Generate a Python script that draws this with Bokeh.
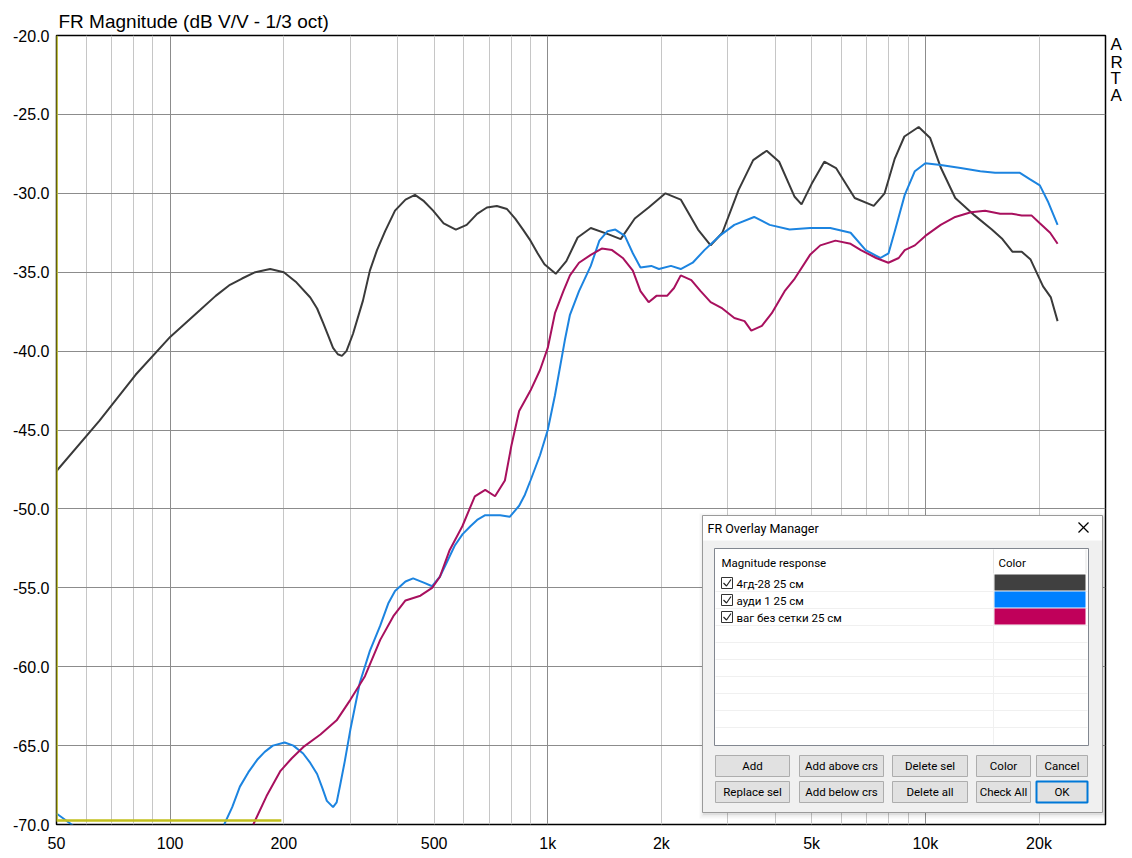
import math
from bokeh.plotting import figure
from bokeh.models import (Range1d, FixedTicker, CustomJSTickFormatter, Grid,
                          PrintfTickFormatter, LinearAxis)
from bokeh.core.properties import value
from bokeh.embed import file_html
from bokeh.resources import INLINE

nan = float("nan")

# ---------------- data ----------------
title_text = "FR Magnitude (dB V/V - 1/3 oct)"
series_names = ["4гд-28 25 см", "ауди 1 25 см", "ваг без сетки 25 см"]
swatch_colors = ["#404040", "#0080ff", "#c0005a"]
line_colors = ["#3a3a3a", "#1c84e0", "#a8105e"]

# (frequency Hz, level dB)
black_pts = [(50, -47.6), (65, -44.4), (81, -41.5), (100, -39.1), (120, -37.4), (132, -36.5),
             (144, -35.8), (155, -35.4), (168, -35.0), (184, -34.8), (200, -35.0), (215, -35.6),
             (235, -36.6), (245, -37.3), (254, -38.2), (262, -39.0), (270, -39.8), (278, -40.2),
             (285, -40.3), (293, -40.0), (305, -38.9), (324, -36.8), (338, -34.9), (353, -33.6),
             (371, -32.4), (394, -31.1), (420, -30.4), (445, -30.1), (470, -30.5), (497, -31.1),
             (530, -31.9), (571, -32.3), (610, -32.0), (650, -31.3), (690, -30.9), (733, -30.8),
             (780, -31.0), (820, -31.6), (860, -32.3), (900, -33.0), (940, -33.8), (980, -34.5),
             (1050, -35.1), (1120, -34.3), (1200, -32.8), (1300, -32.2), (1450, -32.6),
             (1560, -32.9), (1700, -31.6), (1850, -30.9), (2050, -30.0), (2250, -30.4),
             (2500, -32.3), (2700, -33.3), (2900, -32.5), (3200, -29.8), (3500, -27.9),
             (3800, -27.3), (4100, -28.0), (4500, -30.2), (4700, -30.7), (5000, -29.4),
             (5400, -28.0), (5800, -28.4), (6500, -30.3), (7300, -30.8), (7800, -30.0),
             (8300, -27.8), (8800, -26.4), (9600, -25.8), (10300, -26.5), (11000, -28.4),
             (12000, -30.3), (13500, -31.4), (15000, -32.3), (16000, -32.9), (17000, -33.7),
             (18000, -33.7), (19000, -34.2), (20500, -35.9), (21500, -36.6), (22400, -38.1)]

blue_pts = [(50, -69.3), (57, -70.3), (nan, nan), (139, -70.0), (146, -68.9), (153, -67.6),
            (161, -66.7), (170, -65.9), (178, -65.4), (187, -65.0), (201, -64.8), (212, -65.0),
            (225, -65.5), (235, -66.1), (245, -66.8), (253, -67.7), (260, -68.5), (270, -68.9),
            (276, -68.6), (282, -67.5), (290, -66.0), (300, -64.0), (318, -61.0), (338, -59.0),
            (360, -57.4), (378, -56.0), (394, -55.2), (420, -54.6), (440, -54.4), (473, -54.7),
            (494, -54.9), (518, -54.3), (540, -53.4), (568, -52.3), (595, -51.6), (624, -51.1),
            (650, -50.7), (683, -50.4), (748, -50.4), (793, -50.5), (840, -49.8), (870, -49.1),
            (900, -48.2), (954, -46.6), (1000, -45.0), (1045, -42.8), (1110, -39.3),
            (1145, -37.7), (1210, -36.2), (1300, -34.6), (1370, -33.0), (1440, -32.4),
            (1510, -32.3), (1600, -32.7), (1680, -33.8), (1760, -34.7), (1880, -34.6),
            (1970, -34.8), (2120, -34.6), (2250, -34.8), (2420, -34.4), (2600, -33.6),
            (2850, -32.7), (3120, -32.0), (3520, -31.5), (3870, -32.0), (4370, -32.3),
            (4950, -32.2), (5600, -32.2), (6340, -32.5), (6950, -33.6), (7600, -34.1),
            (7990, -33.8), (8300, -32.4), (8820, -30.1), (9380, -28.6), (10000, -28.1),
            (10980, -28.2), (12400, -28.4), (13980, -28.6), (15300, -28.7), (16270, -28.7),
            (17800, -28.7), (18900, -29.1), (20100, -29.5), (21100, -30.5), (22400, -32.0)]

mag_pts = [(166, -70.0), (180, -68.2), (196, -66.6), (210, -65.8), (225, -65.1), (250, -64.3),
           (276, -63.4), (300, -62.1), (328, -60.6), (360, -58.3), (390, -56.8), (420, -55.8),
           (460, -55.5), (494, -55.0), (518, -54.3), (550, -52.6), (594, -51.1), (641, -49.2),
           (683, -48.8), (725, -49.2), (770, -48.2), (801, -46.0), (840, -43.8), (900, -42.5),
           (954, -41.2), (1000, -39.8), (1045, -37.6), (1100, -36.2), (1145, -35.2),
           (1210, -34.4), (1300, -33.9), (1390, -33.5), (1480, -33.6), (1580, -34.1),
           (1680, -34.9), (1760, -36.2), (1850, -36.9), (1940, -36.5), (2070, -36.5),
           (2160, -36.0), (2250, -35.2), (2400, -35.5), (2540, -36.2), (2700, -36.9),
           (2900, -37.3), (3120, -37.9), (3320, -38.1), (3460, -38.7), (3690, -38.4),
           (3920, -37.6), (4240, -36.2), (4510, -35.4), (4950, -33.9), (5270, -33.3),
           (5780, -33.0), (6340, -33.2), (6750, -33.6), (7410, -34.1), (7980, -34.4),
           (8500, -34.1), (8820, -33.6), (9380, -33.3), (10000, -32.7), (10980, -32.0),
           (12000, -31.5), (13200, -31.2), (14400, -31.1), (15780, -31.3), (16950, -31.3),
           (18000, -31.4), (19100, -31.4), (20100, -31.9), (21400, -32.5), (22400, -33.2)]

yellow_pts = [(50, -20.0), (50, -69.75), (197, -69.75)]

x_label_ticks = [50, 100, 200, 500, 1000, 2000, 5000, 10000, 20000]
x_minor_grid = [60, 70, 80, 90, 200, 300, 400, 500, 600, 700, 800, 900,
                2000, 3000, 4000, 5000, 6000, 7000, 8000, 9000, 20000]
x_major_grid = [100, 1000, 10000]
y_ticks = [-70, -65, -60, -55, -50, -45, -40, -35, -30, -25, -20]

button_rows = [["Add", "Add above crs", "Delete sel", "Color", "Cancel"],
               ["Replace sel", "Add below crs", "Delete all", "Check All", "OK"]]

black_f, black_db = [list(v) for v in zip(*black_pts)]
blue_f, blue_db = [list(v) for v in zip(*blue_pts)]
mag_f, mag_db = [list(v) for v in zip(*mag_pts)]
yellow_f, yellow_db = [list(v) for v in zip(*yellow_pts)]

# ---------------- layout constants (page pixels) ----------------
F_MIN, F_MAX = 50, 30000
DB_MIN, DB_MAX = -70, -20
FRAME_L, FRAME_T, FRAME_W, FRAME_H = 56, 35, 1049, 789
UI_FONT = "Roboto"

p = figure(x_axis_type="log", x_range=Range1d(F_MIN, F_MAX), y_range=Range1d(DB_MIN, DB_MAX),
           frame_width=FRAME_W, frame_height=FRAME_H,
           min_border_left=FRAME_L, min_border_top=FRAME_T,
           min_border_right=22, min_border_bottom=26,
           output_backend="svg", toolbar_location=None, title=title_text)
p.title.align = "left"
p.title.offset = 2
p.title.standoff = 8
p.title.text_font = "Liberation Sans"
p.title.text_font_size = "19px"
p.title.text_font_style = "normal"
p.title.text_color = "black"

p.background_fill_color = "white"
p.border_fill_color = "white"
p.outline_line_color = "black"
p.outline_line_width = 1.5

p.xaxis.ticker = FixedTicker(ticks=x_label_ticks)
p.xaxis.formatter = CustomJSTickFormatter(
    code="return tick >= 1000 ? (tick/1000) + 'k' : String(tick);")
p.yaxis.ticker = FixedTicker(ticks=y_ticks)
p.yaxis.formatter = PrintfTickFormatter(format="%.1f")


def page_to_db(py):
    return DB_MAX - (DB_MAX - DB_MIN) * (py - FRAME_T) / FRAME_H


def page_to_f(px):
    return F_MIN * (F_MAX / F_MIN) ** ((px - FRAME_L) / FRAME_W)


# "ARTA" stacked letters on the right side, as a label-only axis
arta_ticks = [page_to_db(y) for y in (44, 61.5, 78, 95)]
arta_axis = LinearAxis(
    ticker=FixedTicker(ticks=arta_ticks),
    formatter=CustomJSTickFormatter(
        args=dict(t=arta_ticks),
        code="var L=['A','R','T','A']; var b=0; var d=1e9;"
             "for (var i=0;i<t.length;i++){var e=Math.abs(t[i]-tick); if(e<d){d=e;b=i;}}"
             "return L[b];"))
p.add_layout(arta_axis, "right")

for ax in p.axis:
    ax.axis_line_color = None
    ax.major_tick_in = 0
    ax.major_tick_out = 0
    ax.minor_tick_line_color = None
    ax.major_label_text_font = "Liberation Sans"
    ax.major_label_text_font_size = "16px"
    ax.major_label_text_color = "black"
p.yaxis[0].major_label_standoff = 7
p.xaxis.major_label_standoff = 10
arta_axis.major_label_standoff = 5
arta_axis.major_label_text_font_size = "17px"

p.xgrid.ticker = FixedTicker(ticks=x_minor_grid)
p.xgrid.grid_line_color = "#c6c6c6"
p.xgrid.grid_line_width = 1
p.ygrid.ticker = FixedTicker(ticks=y_ticks)
p.ygrid.grid_line_color = "#8c8c8c"
p.ygrid.grid_line_width = 1
p.add_layout(Grid(dimension=0, ticker=FixedTicker(ticks=x_major_grid),
                  grid_line_color="#8c8c8c", grid_line_width=1))

# curves
p.line(black_f, black_db, line_color=line_colors[0], line_width=2)
p.line(blue_f, blue_db, line_color=line_colors[1], line_width=2)
p.line(mag_f, mag_db, line_color=line_colors[2], line_width=2)
p.line(yellow_f, yellow_db, line_color="#c2c01e", line_width=2.5)


# ---------------- overlay-manager dialog (drawn in page pixels) ----------------
def box(l, t, r, b, fill, line=None, lw=1, alpha=1.0):
    p.quad(left=[page_to_f(l)], right=[page_to_f(r)], top=[page_to_db(t)],
           bottom=[page_to_db(b)], fill_color=fill, fill_alpha=alpha,
           line_color=line, line_width=lw)


def txt(x, y, s, size="11.5px", align="left", color="black"):
    p.text(x=[page_to_f(x)], y=[page_to_db(y)], text=[s], text_font=value(UI_FONT),
           text_font_size=size, text_align=align, text_baseline="middle", text_color=color)


def seg(xs, ys, color="black", lw=1):
    p.line([page_to_f(v) for v in xs], [page_to_db(v) for v in ys], line_color=color, line_width=lw)


# shadow
for d, a in [(5, 0.03), (3, 0.04), (1.5, 0.06)]:
    box(702 - d + 2, 515 - d + 3, 1102 + d, 812 + d + 1, "black", None, alpha=a)
box(702, 515, 1102, 812, "#f0f0f0", "#9a9a9a")
box(702.5, 515.5, 1101.5, 540, "white", None)
txt(707, 527.5, "FR Overlay Manager", size="12.5px")
seg([1078, 1088], [522, 532], lw=1.2)
seg([1078, 1088], [532, 522], lw=1.2)

# list
box(714, 548, 1088, 745, "white", "#828790")
seg([993, 993], [549, 573], color="#e5e5e5")
seg([1085.5, 1085.5], [549, 573], color="#e5e5e5")
seg([993, 993], [573, 744], color="#f0f0f0")
txt(721, 562, "Magnitude response")
txt(998, 562, "Color")
for k in range(10):
    yl = 591 + 17 * k
    if yl < 744:
        seg([715, 1087], [yl, yl], color="#f0f0f0")
for i, (name, col) in enumerate(zip(series_names, swatch_colors)):
    yc = 582.5 + 17 * i
    box(721, yc - 5.5, 732, yc + 5.5, "white", "#333333")
    seg([723, 726, 730.5], [yc, yc + 3, yc - 3.5], color="#222222", lw=1.2)
    txt(736, yc + 0.5, name)
    box(994, yc - 8.5, 1085, yc + 7.5, col, None)

# buttons
btn_cols = [(715, 789), (799, 883), (892, 967), (976, 1030), (1036, 1087)]
btn_rows_y = [(755, 776), (781, 802)]
for r, (t, b) in enumerate(btn_rows_y):
    for c, (l, rr) in enumerate(btn_cols):
        label = button_rows[r][c]
        if label == "OK":
            box(l, t, rr, b, "#e1e1e1", "#0078d7", lw=2)
        else:
            box(l, t, rr, b, "#e1e1e1", "#adadad")
        txt((l + rr) / 2, (t + b) / 2, label, align="center")

open("out.html", "w").write(file_html(p, INLINE))
